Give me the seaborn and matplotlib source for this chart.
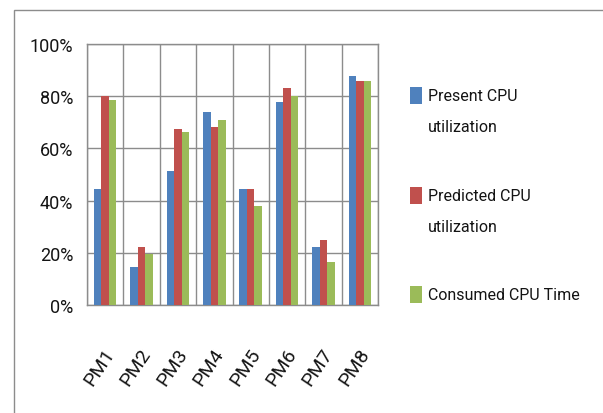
import matplotlib
matplotlib.use("Agg")
import matplotlib.pyplot as plt
import matplotlib.patches as mpatches
import matplotlib.transforms as mtransforms
from matplotlib.ticker import FixedLocator, PercentFormatter
import seaborn as sns
import pandas as pd

# CPU figures per physical machine (percent)
machines = ["PM1", "PM2", "PM3", "PM4", "PM5", "PM6", "PM7", "PM8"]
present_cpu = [44.5, 14.4, 51.3, 73.9, 44.5, 77.7, 22.1, 87.9]
predicted_cpu = [80.2, 22.1, 67.3, 68.1, 44.5, 83.2, 24.9, 86.0]
consumed_cpu = [78.6, 19.5, 66.2, 71.0, 38.0, 80.2, 16.5, 86.0]

series_names = ["Present CPU utilization", "Predicted CPU utilization", "Consumed CPU Time"]
legend_labels = ["Present CPU\nutilization", "Predicted CPU\nutilization", "Consumed CPU Time"]
series_colors = ["#4F81BD", "#C0504D", "#9BBB59"]
y_ticks = [0, 20, 40, 60, 80, 100]

df = pd.DataFrame({
    "machine": machines * 3,
    "value": present_cpu + predicted_cpu + consumed_cpu,
    "series": [s for s in series_names for _ in machines],
})

sns.set_style("white")
plt.rcParams["font.family"] = ["Roboto", "DejaVu Sans"]
txt_c = "#141414"

W, H = 603, 414
fig = plt.figure(figsize=(W / 100, H / 100), dpi=100)
ax = fig.add_axes([87 / W, 1 - 306 / H, 291 / W, 261 / H])

sns.barplot(data=df, x="machine", y="value", hue="series", order=machines,
            hue_order=series_names, palette=series_colors, width=0.62,
            saturation=1, ax=ax, zorder=3, linewidth=0, legend=False)

grid_c = "#8c8c8c"
ax.set_xlim(-0.5, len(machines) - 0.5)
ax.set_ylim(0, 100)
ax.set_yticks(y_ticks)
ax.yaxis.set_major_formatter(PercentFormatter(decimals=0))
ax.tick_params(axis="y", length=5, color=grid_c, width=1, pad=5,
               labelsize=13, labelcolor=txt_c)

# category boundaries carry the vertical grid lines and the x tick marks
bounds = [i - 0.5 for i in range(len(machines) + 1)]
ax.xaxis.set_minor_locator(FixedLocator(bounds))
ax.tick_params(axis="x", which="major", length=0, pad=32, labelsize=14,
               labelcolor=txt_c)
ax.tick_params(axis="x", which="minor", length=6, color=grid_c, width=1)
shift = mtransforms.ScaledTranslation(4 / 72, 0, fig.dpi_scale_trans)
for lab in ax.get_xticklabels():
    lab.set_rotation(56)
    lab.set_ha("right")
    lab.set_va("center")
    lab.set_rotation_mode("anchor")
    lab.set_transform(lab.get_transform() + shift)

ax.grid(True, which="major", axis="y", color=grid_c, lw=1, zorder=0)
ax.grid(True, which="minor", axis="x", color=grid_c, lw=1, zorder=0)
ax.set_axisbelow(True)
for sp in ax.spines.values():
    sp.set_color(grid_c)
    sp.set_linewidth(1)
ax.set_xlabel("")
ax.set_ylabel("")

# legend: swatch beside the first line of each entry
legend_tops = [88, 188, 287]
for lab, col, top in zip(legend_labels, series_colors, legend_tops):
    fig.add_artist(mpatches.Rectangle((410 / W, 1 - (top + 17) / H), 12 / W, 17 / H,
                                      transform=fig.transFigure, color=col, lw=0))
    fig.text(428 / W, 1 - (top + 1) / H, lab, ha="left", va="top",
             fontsize=11.5, color=txt_c, linespacing=2.3)

# outer chart frame
fig.add_artist(mpatches.Rectangle((14 / W, -0.05), 1.2, 1.05 - 11 / H,
                                  transform=fig.transFigure, fill=False,
                                  edgecolor=grid_c, lw=1))

fig.savefig("out.png", dpi=100)
